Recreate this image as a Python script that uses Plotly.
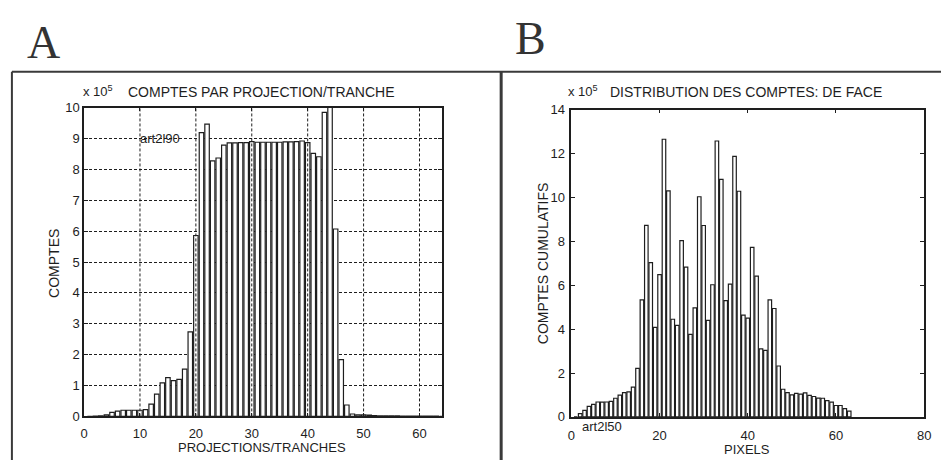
import plotly.graph_objects as go

W, H = 948, 468

# ---------------- data ----------------
projections = list(range(1, 65))
comptes_a = [0.0, 0.01, 0.02, 0.05, 0.13, 0.17, 0.20, 0.20, 0.20, 0.20,
             0.22, 0.40, 0.72, 1.09, 1.26, 1.16, 1.20, 1.53, 2.74, 5.86,
             9.19, 9.47, 8.28, 8.37, 8.79, 8.86, 8.86, 8.87, 8.87, 8.90,
             8.88, 8.88, 8.88, 8.88, 8.88, 8.89, 8.89, 8.90, 8.92, 8.87,
             8.52, 8.41, 9.85, 10.40, 6.07, 1.84, 0.37, 0.08, 0.05, 0.05,
             0.04, 0.03, 0.02, 0.02, 0.02, 0.02, 0.01, 0.01, 0.01, 0.01,
             0.01, 0.01, 0.01, 0.0]

pixels = list(range(1, 64))
comptes_b = [0.0, 0.15, 0.30, 0.48, 0.57, 0.68, 0.67, 0.68, 0.71, 0.85,
             0.99, 1.11, 1.14, 1.36, 2.21, 5.33, 8.73, 7.03, 4.08, 6.48,
             12.65, 10.30, 4.45, 4.17, 8.03, 6.82, 3.76, 4.97, 10.03, 8.72,
             4.40, 6.02, 12.57, 10.82, 5.30, 6.05, 11.87, 10.28, 4.64, 4.50,
             7.72, 6.41, 3.10, 3.03, 5.33, 4.94, 2.32, 1.26, 1.11, 1.00,
             1.07, 1.04, 1.10, 0.98, 0.93, 0.86, 0.85, 0.74, 0.67, 0.52,
             0.52, 0.38, 0.26]

xticks_a = [0, 10, 20, 30, 40, 50, 60]
yticks_a = list(range(0, 11))
xticks_b = [0, 20, 40, 60, 80]
yticks_b = list(range(0, 15, 2))

# ---------------- style ----------------
INK = "#1e1e1e"
FONT = "Liberation Sans, Arial, sans-serif"
SERIF = "Liberation Serif, Times New Roman, serif"

def px(x):
    return x / W

def py(y):
    return 1 - y / H

bar_style = dict(color="white", line=dict(color=INK, width=1.2))

fig = go.Figure()
fig.add_trace(go.Bar(x=projections, y=comptes_a, width=0.8, marker=bar_style,
                     xaxis="x", yaxis="y", showlegend=False))
fig.add_trace(go.Bar(x=pixels, y=comptes_b, width=0.8, marker=bar_style,
                     xaxis="x2", yaxis="y2", showlegend=False))

axis_common = dict(showline=True, linecolor=INK, linewidth=1.5, mirror="allticks",
                   ticks="inside", ticklen=4, tickcolor=INK, zeroline=False,
                   tickfont=dict(family=FONT, size=13, color=INK), fixedrange=True)

fig.update_layout(
    width=W, height=H,
    margin=dict(l=0, r=0, t=0, b=0),
    paper_bgcolor="white", plot_bgcolor="white",
    xaxis=dict(domain=[px(81), px(443)], range=[0, 64], tickvals=xticks_a,
               showgrid=False, anchor="y", ticklabelstandoff=4, **axis_common),
    yaxis=dict(domain=[py(423), py(104)], range=[0, 10], tickvals=yticks_a,
               showgrid=True, gridcolor=INK, gridwidth=1, griddash="3px,2px",
               anchor="x", **axis_common),
    xaxis2=dict(domain=[px(574), px(931)], range=[0, 80], tickvals=xticks_b,
                showgrid=False, anchor="y2", ticklabelstandoff=6, **axis_common),
    yaxis2=dict(domain=[py(423.5), py(106)], range=[0, 14], tickvals=yticks_b,
                showgrid=False, anchor="x2", ticklabelstandoff=2, **axis_common),
)

shapes = []
# vertical dotted grid of panel A drawn over the bars
for xv in xticks_a[1:]:
    shapes.append(dict(type="line", xref="x", yref="y", x0=xv, x1=xv, y0=0, y1=10,
                       layer="above", line=dict(color=INK, width=1, dash="3px,2px")))
# panel frames
frame = dict(color="#3a3a3a", width=2)
shapes.append(dict(type="line", xref="paper", yref="paper", x0=px(8), x1=1,
                   y0=py(67), y1=py(67), line=frame))
shapes.append(dict(type="line", xref="paper", yref="paper", x0=px(8), x1=px(8),
                   y0=py(67), y1=0, line=frame))
shapes.append(dict(type="line", xref="paper", yref="paper", x0=px(503), x1=px(503),
                   y0=py(67), y1=0, line=dict(color="#3a3a3a", width=3)))
fig.update_layout(shapes=shapes)

def ann(text, x, y, size=14, xanchor="center", yanchor="middle", angle=0,
        family=FONT, xref="paper", yref="paper", color=INK):
    return dict(text=text, x=x, y=y, xref=xref, yref=yref, showarrow=False,
                xanchor=xanchor, yanchor=yanchor, textangle=angle,
                font=dict(family=family, size=size, color=color))

annotations = [
    ann("A", px(40), py(37), size=46, family=SERIF, color="#333"),
    ann("B", px(533), py(33), size=46, family=SERIF, color="#333"),
    ann("x 10<sup>5</sup>", px(78), py(87), size=13, xanchor="left"),
    ann("COMPTES PAR PROJECTION/TRANCHE", px(261), py(88), size=14),
    ann("COMPTES", px(50), py(265), size=14, angle=-90),
    ann("PROJECTIONS/TRANCHES", px(261), py(455), size=13),
    ann("x 10<sup>5</sup>", px(569), py(87), size=13, xanchor="left"),
    ann("DISTRIBUTION DES COMPTES: DE FACE", px(751), py(88), size=14),
    ann("COMPTES CUMULATIFS", px(545), py(265), size=14, angle=-90),
    ann("PIXELS", px(752), py(457), size=13),
    ann("art2l90", 9.7, 9.0, size=13, xanchor="left", xref="x", yref="y"),
    ann("art2l50", 2.0, 0, size=13, xanchor="left", yanchor="top",
        xref="x2", yref="y2"),
]
fig.update_layout(annotations=annotations)

fig.write_html("out.html")
